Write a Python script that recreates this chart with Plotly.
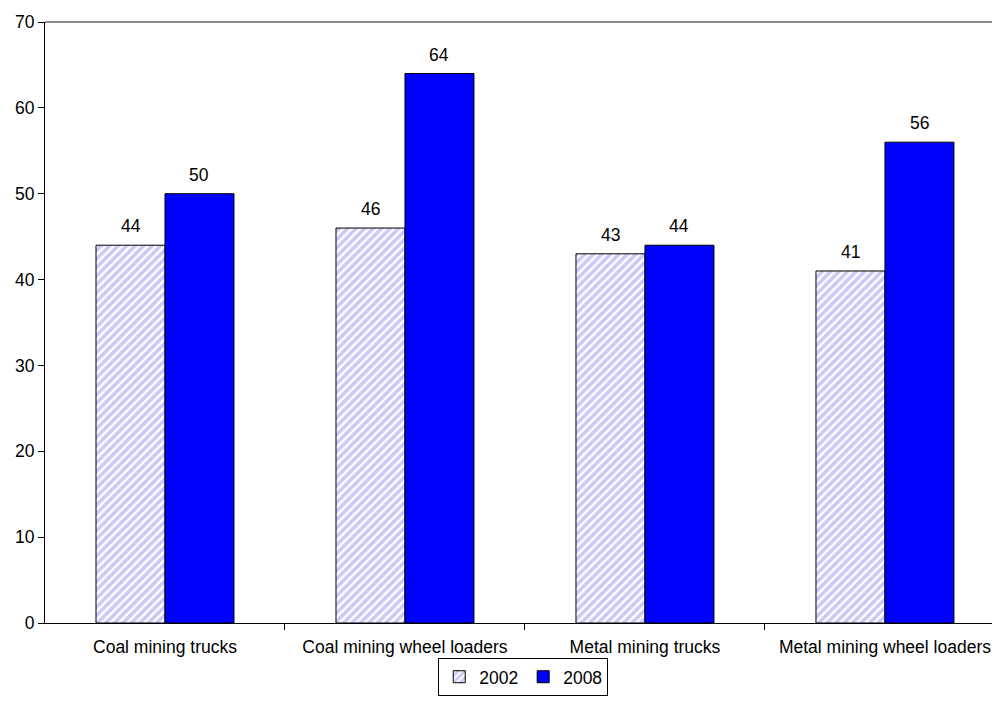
import plotly.graph_objects as go

categories = ["Coal mining trucks", "Coal mining wheel loaders",
              "Metal mining trucks", "Metal mining wheel loaders"]
values_2002 = [44, 46, 43, 41]
values_2008 = [50, 64, 44, 56]
y_ticks = [0, 10, 20, 30, 40, 50, 60, 70]

FONT = "Liberation Sans, Arial, sans-serif"
FS = 17.5
BAR_W = 0.2875
xs = list(range(len(categories)))

fig = go.Figure()
fig.add_trace(go.Bar(
    name="2002", x=[i - BAR_W / 2 for i in xs], y=values_2002, width=BAR_W,
    marker=dict(color="white",
                line=dict(color="black", width=1),
                pattern=dict(shape="/", fgcolor="#9696f0", bgcolor="white",
                             size=6, solidity=0.6)),
))
fig.add_trace(go.Bar(
    name="2008", x=[i + BAR_W / 2 for i in xs], y=values_2008, width=BAR_W,
    marker=dict(color="#0000ff", line=dict(color="black", width=1)),
))

# value labels above each bar
for i, (a, b) in enumerate(zip(values_2002, values_2008)):
    for xv, yv in ((i - BAR_W / 2, a), (i + BAR_W / 2, b)):
        fig.add_annotation(x=xv, y=yv, text=str(yv), showarrow=False,
                           yanchor="bottom", yshift=7,
                           font=dict(family=FONT, size=FS, color="black"))

# plot-area top border
fig.add_shape(type="line", xref="paper", yref="paper", x0=0, x1=1, y0=1, y1=1,
              line=dict(color="#8c8c8c", width=2))

fig.update_layout(
    width=992, height=702,
    margin=dict(l=45, r=0, t=22, b=79, autoexpand=False),
    paper_bgcolor="white", plot_bgcolor="white",
    barmode="overlay",
    font=dict(family=FONT, size=FS, color="black"),
    showlegend=True,
    legend=dict(orientation="h", x=0.505, y=-0.058, xanchor="center", yanchor="top",
                bordercolor="black", borderwidth=1, bgcolor="white",
                font=dict(family=FONT, size=FS), itemwidth=30,
                tracegroupgap=0),
    xaxis=dict(range=[-0.5, 3.446], tickvals=xs, ticktext=categories,
               showgrid=False, zeroline=False, showline=True,
               linecolor="black", linewidth=1, ticks="", ticklabelstandoff=8,
               minor=dict(tickvals=[0.5, 1.5, 2.5], ticks="outside", ticklen=6,
                          tickcolor="black", tickwidth=1, showgrid=False),
               tickfont=dict(family=FONT, size=FS, color="black")),
    yaxis=dict(range=[0, 70], tickvals=y_ticks, showgrid=False, zeroline=False,
               showline=True, linecolor="black", linewidth=1,
               ticks="outside", ticklen=6, tickcolor="black",
               tickfont=dict(family=FONT, size=FS, color="black")),
)

fig.write_html("out.html")
